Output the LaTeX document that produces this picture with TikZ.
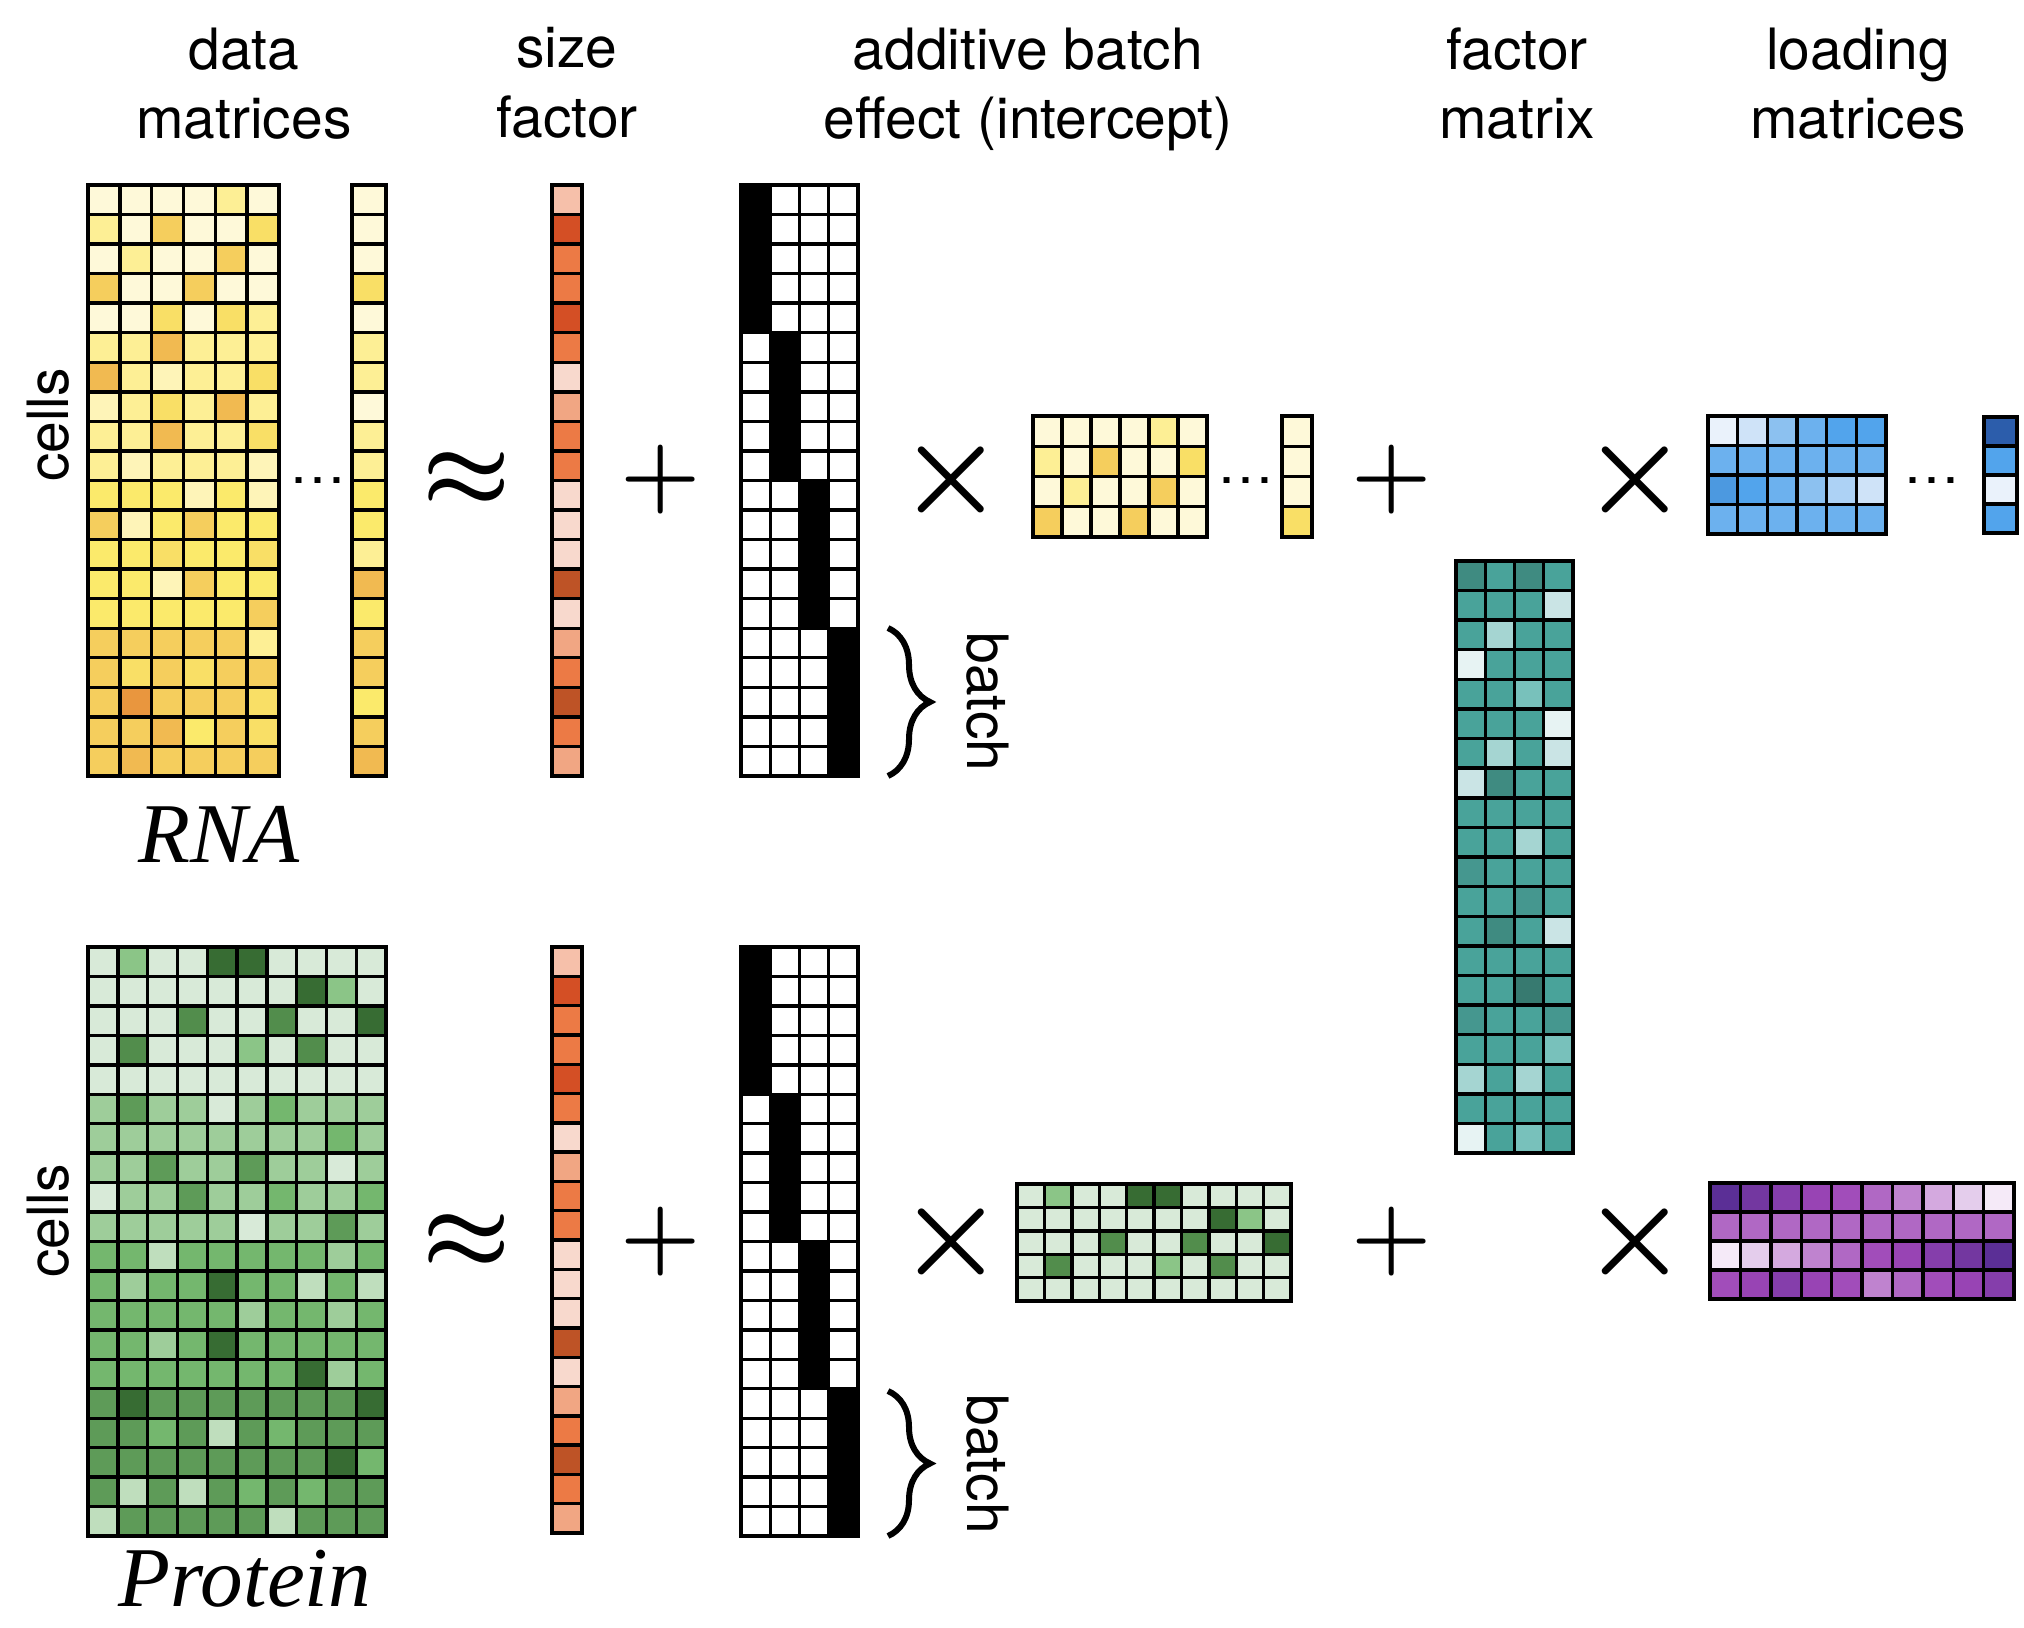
\documentclass[tikz,border=0pt]{standalone}
\usepackage{fontspec}
\setmainfont{TeX Gyre Heros}
\newfontfamily\labelfont{Liberation Serif}
\usetikzlibrary{decorations.pathreplacing}

% RNA counts (yellow)
\definecolor{ya}{HTML}{FEF9D9}
\definecolor{yb}{HTML}{FEF4B8}
\definecolor{yc}{HTML}{FDEF95}
\definecolor{yd}{HTML}{FBEA6B}
\definecolor{ye}{HTML}{F9DF66}
\definecolor{yf}{HTML}{F5CE5D}
\definecolor{yg}{HTML}{F1BA51}
\definecolor{yh}{HTML}{E9963E}
% size factor (orange)
\definecolor{oa}{HTML}{F6C0AA}
\definecolor{ob}{HTML}{F1A683}
\definecolor{oc}{HTML}{EC7A45}
\definecolor{od}{HTML}{D44F25}
\definecolor{oe}{HTML}{BE5326}
\definecolor{of}{HTML}{F8D9CD}
% RNA loadings (blue)
\definecolor{b1}{HTML}{EAF2FB}
\definecolor{b2}{HTML}{CFE3F8}
\definecolor{b3}{HTML}{8CC1F0}
\definecolor{b4}{HTML}{6CB1EE}
\definecolor{b5}{HTML}{52A4EC}
\definecolor{b6}{HTML}{4C99E0}
\definecolor{b7}{HTML}{2C5DAB}
\definecolor{b8}{HTML}{ADD2F5}
% factors (teal)
\definecolor{t0}{HTML}{49A39A}
\definecolor{t1}{HTML}{3F8B81}
\definecolor{t2}{HTML}{377A70}
\definecolor{t3}{HTML}{45978F}
\definecolor{t4}{HTML}{78C1BB}
\definecolor{t5}{HTML}{A5D5D2}
\definecolor{t6}{HTML}{CAE4E5}
\definecolor{t7}{HTML}{E7F3F3}
% protein counts (green)
\definecolor{g0}{HTML}{D8EAD8}
\definecolor{g1}{HTML}{BFDEBD}
\definecolor{g2}{HTML}{9ECD9A}
\definecolor{g3}{HTML}{8BC587}
\definecolor{g4}{HTML}{74B76E}
\definecolor{g5}{HTML}{5E9B58}
\definecolor{g6}{HTML}{528D4C}
\definecolor{g7}{HTML}{376C33}
% protein loadings (purple)
\definecolor{p1}{HTML}{5B2F96}
\definecolor{p2}{HTML}{7337A0}
\definecolor{p3}{HTML}{853EAB}
\definecolor{p4}{HTML}{9844B4}
\definecolor{p5}{HTML}{A14DBA}
\definecolor{p6}{HTML}{B068C4}
\definecolor{p7}{HTML}{BF83CF}
\definecolor{p8}{HTML}{D4A9DF}
\definecolor{p9}{HTML}{E4CDEC}
\definecolor{p10}{HTML}{F5EAF8}

% heat map: x, y, cell width, cell height, columns, rows, colour rows
\newcommand{\heatmap}[7]{%
  \foreach \rowlist [count=\ri from 0] in {#7}{%
    \foreach \cc [count=\ci from 0] in \rowlist
      \filldraw[cellline, fill=\cc] ({#1+\ci*#3},{#2+\ri*#4}) rectangle ++(#3,#4);
  }%
  \draw[frameline] (#1,#2) rectangle ({#1+#5*#3},{#2+#6*#4});}

% batch design matrix: x, y, cell width, cell height (4 batches of 5 cells)
\newcommand{\batchmat}[4]{%
  \foreach \ci in {0,...,3}
    \foreach \ri in {0,...,19}
      \draw[cellline] ({#1+\ci*#3},{#2+\ri*#4}) rectangle ++(#3,#4);
  \foreach \ci in {0,...,3}
    \fill[black] ({#1+\ci*#3},{#2+5*\ci*#4}) rectangle ++({#3},{5*#4});
  \draw[frameline] (#1,#2) rectangle ({#1+4*#3},{#2+20*#4});}

% operator signs (math fonts stop at 24.88pt, so scale the glyph)
\newcommand{\opsign}[2]{\scalebox{#1}{$#2$}}

\begin{document}
\begin{tikzpicture}[x=0.01cm, y=-0.01cm,
    cellline/.style={draw=black, line width=0.034cm},
    frameline/.style={draw=black, line width=0.046cm},
    headtxt/.style={font=\fontsize{16.2}{19.63}\selectfont, align=center, anchor=north, inner sep=0pt},
    sidetxt/.style={font=\fontsize{16.2}{19.63}\selectfont, inner sep=0pt, anchor=base},
    omictxt/.style={font=\labelfont\itshape\fontsize{24.2}{28}\selectfont, inner sep=0pt, anchor=base},
    opsym/.style={inner sep=0pt, font=\fontsize{24.88}{30}\selectfont\boldmath},
    bracemark/.style={decorate, decoration={brace, amplitude=0.42cm}, line width=0.06cm}]
    % Parameters
    \def\topY{185}
    \def\botY{947}
    \def\opTop{480}
    \def\opBot{1242}

    \useasboundingbox (0,0) rectangle (2024,1628);

    % Column headers
    \node[headtxt] (hdata) at (244,27) {data\\matrices};
    \node[headtxt] (hsize) at (567,27) {size\\factor};
    \node[headtxt] (hbatch) at (1028,27) {additive batch\\effect (intercept)};
    \node[headtxt] (hfactor) at (1517,27) {factor\\matrix};
    \node[headtxt] (hload) at (1858,27) {loading\\matrices};

    % RNA data matrix
    \heatmap{88}{\topY}{31.83}{29.55}{6}{20}{
      {ya,ya,ya,ya,yc,ya},{yc,ya,yf,ya,ya,ye},{ya,yc,ya,ya,yf,ya},{yf,ya,ya,yf,ya,ya},
      {ya,ya,ye,ya,ye,yc},{yc,yc,yg,yc,yc,yc},{yg,yc,yb,yc,yc,ye},{yb,yc,ye,yc,yg,yc},
      {yc,yc,yg,yc,yc,ye},{yc,yb,yc,yc,yc,yb},{yd,yd,yd,yb,yd,yb},{yf,yb,yd,yf,yd,yd},
      {yd,yd,ye,yd,yd,ye},{yd,yd,yb,yf,yd,yd},{yd,yd,yd,yd,yd,yf},{yf,yf,yf,yf,yf,yc},
      {yf,ye,yf,ye,yf,yf},{yf,yh,yf,yf,yf,ye},{yf,yf,yg,yd,yf,ye},{yf,yg,yf,yf,yf,yf}}
    \node[sidetxt] (dotsA) at (318,484) {\ldots};
    \heatmap{352}{\topY}{34}{29.55}{1}{20}{
      ya,ya,ya,ye,ya,yc,yc,ya,yc,yc,yd,yd,yc,yg,yd,yf,yf,yd,yf,yg}
    \node[sidetxt, rotate=90] (cellsA) at (68,425) {cells};
    \node[omictxt] (rna) at (219,862) {RNA};

    \node[opsym] (approxA) at (467,\opTop) {\opsign{1.13}{\approx}};

    % Size factor
    \heatmap{552}{\topY}{30}{29.55}{1}{20}{
      oa,od,oc,oc,od,oc,of,ob,oc,oc,of,of,of,oe,of,ob,oc,oe,oc,ob}

    \node[opsym] (plusA) at (661,\opTop) {\opsign{1.05}{+}};

    % Batch intercept
    \batchmat{741}{\topY}{29.25}{29.55}
    \coordinate (brA1) at (888,628);
    \coordinate (brA2) at (888,776);
    \draw[bracemark] (brA1) -- (brA2);
    \node[sidetxt, rotate=-90] (batchA) at (967,702) {batch};

    \node[opsym] (timesA) at (951,\opTop) {\opsign{1.35}{\times}};

    % RNA batch loadings
    \heatmap{1033}{416}{29}{30.25}{6}{4}{
      {ya,ya,ya,ya,yc,ya},{yc,ya,yf,ya,ya,ye},{ya,yc,ya,ya,yf,ya},{yf,ya,ya,yf,ya,ya}}
    \node[sidetxt] (dotsB) at (1246,484) {\ldots};
    \heatmap{1282}{416}{30}{30.25}{1}{4}{ya,ya,ya,ye}

    \node[opsym] (plusB) at (1392,\opTop) {\opsign{1.05}{+}};

    % Factor matrix (shared)
    \heatmap{1456}{561}{29.25}{29.6}{4}{20}{
      {t1,t0,t1,t0},{t0,t0,t0,t6},{t0,t5,t0,t0},{t7,t0,t0,t0},{t0,t0,t4,t0},
      {t0,t0,t0,t7},{t0,t5,t0,t6},{t6,t1,t0,t0},{t0,t0,t0,t0},{t0,t0,t5,t0},
      {t3,t0,t0,t0},{t0,t0,t3,t0},{t0,t1,t0,t6},{t0,t0,t0,t0},{t0,t0,t2,t0},
      {t3,t0,t0,t3},{t0,t0,t0,t4},{t5,t0,t5,t0},{t0,t0,t0,t0},{t7,t0,t4,t0}}

    \node[opsym] (timesB) at (1635,\opTop) {\opsign{1.35}{\times}};

    % RNA loadings
    \heatmap{1708}{416}{29.67}{29.5}{6}{4}{
      {b1,b2,b3,b4,b5,b5},{b4,b4,b4,b4,b4,b4},{b6,b5,b4,b3,b8,b2},{b4,b4,b4,b4,b4,b4}}
    \node[sidetxt] (dotsC) at (1932,484) {\ldots};
    \heatmap{1984}{417}{33}{29}{1}{4}{b7,b5,b1,b5}

    % Protein data matrix
    \heatmap{88}{\botY}{29.8}{29.45}{10}{20}{
      {g0,g3,g0,g0,g7,g7,g0,g0,g0,g0},{g0,g0,g0,g0,g0,g0,g0,g7,g3,g0},
      {g0,g0,g0,g6,g0,g0,g6,g0,g0,g7},{g0,g6,g0,g0,g0,g3,g0,g6,g0,g0},
      {g0,g0,g0,g0,g0,g0,g0,g0,g0,g0},{g2,g5,g2,g2,g0,g2,g4,g2,g2,g2},
      {g2,g2,g2,g2,g2,g2,g2,g2,g4,g2},{g2,g2,g5,g2,g2,g5,g2,g2,g0,g2},
      {g0,g2,g2,g5,g2,g2,g4,g2,g2,g4},{g2,g2,g2,g2,g2,g0,g2,g2,g5,g2},
      {g4,g4,g1,g4,g4,g4,g4,g4,g2,g4},{g4,g2,g4,g4,g7,g4,g4,g1,g4,g1},
      {g4,g4,g4,g4,g4,g2,g4,g4,g2,g4},{g4,g4,g2,g4,g7,g4,g4,g4,g4,g4},
      {g4,g4,g4,g4,g4,g4,g4,g7,g2,g4},{g5,g7,g5,g5,g5,g5,g5,g5,g5,g7},
      {g5,g5,g4,g5,g1,g5,g4,g5,g5,g5},{g5,g5,g5,g5,g5,g5,g5,g5,g7,g4},
      {g5,g1,g5,g1,g5,g4,g5,g4,g5,g5},{g1,g5,g5,g5,g5,g5,g1,g5,g5,g5}}
    \node[sidetxt, rotate=90] (cellsB) at (68,1221) {cells};
    \node[omictxt] (protein) at (245,1606) {Protein};

    \node[opsym] (approxB) at (467,\opBot) {\opsign{1.13}{\approx}};

    % Size factor
    \heatmap{552}{\botY}{30}{29.3}{1}{20}{
      oa,od,oc,oc,od,oc,of,ob,oc,oc,of,of,of,oe,of,ob,oc,oe,oc,ob}

    \node[opsym] (plusC) at (661,\opBot) {\opsign{1.05}{+}};

    % Batch intercept
    \batchmat{741}{\botY}{29.25}{29.45}
    \coordinate (brB1) at (888,1391);
    \coordinate (brB2) at (888,1536);
    \draw[bracemark] (brB1) -- (brB2);
    \node[sidetxt, rotate=-90] (batchB) at (967,1464) {batch};

    \node[opsym] (timesC) at (951,\opBot) {\opsign{1.35}{\times}};

    % Protein batch loadings
    \heatmap{1017}{1184}{27.4}{23.4}{10}{5}{
      {g0,g3,g0,g0,g7,g7,g0,g0,g0,g0},{g0,g0,g0,g0,g0,g0,g0,g7,g3,g0},
      {g0,g0,g0,g6,g0,g0,g6,g0,g0,g7},{g0,g6,g0,g0,g0,g3,g0,g6,g0,g0},
      {g0,g0,g0,g0,g0,g0,g0,g0,g0,g0}}

    \node[opsym] (plusD) at (1392,\opBot) {\opsign{1.05}{+}};
    \node[opsym] (timesD) at (1635,\opBot) {\opsign{1.35}{\times}};

    % Protein loadings
    \heatmap{1710}{1183}{30.4}{29}{10}{4}{
      {p1,p2,p3,p4,p5,p6,p7,p8,p9,p10},{p6,p6,p6,p6,p6,p6,p6,p6,p6,p6},
      {p10,p9,p8,p7,p6,p5,p4,p3,p2,p1},{p5,p4,p3,p4,p5,p7,p6,p5,p4,p3}}
\end{tikzpicture}
\end{document}
